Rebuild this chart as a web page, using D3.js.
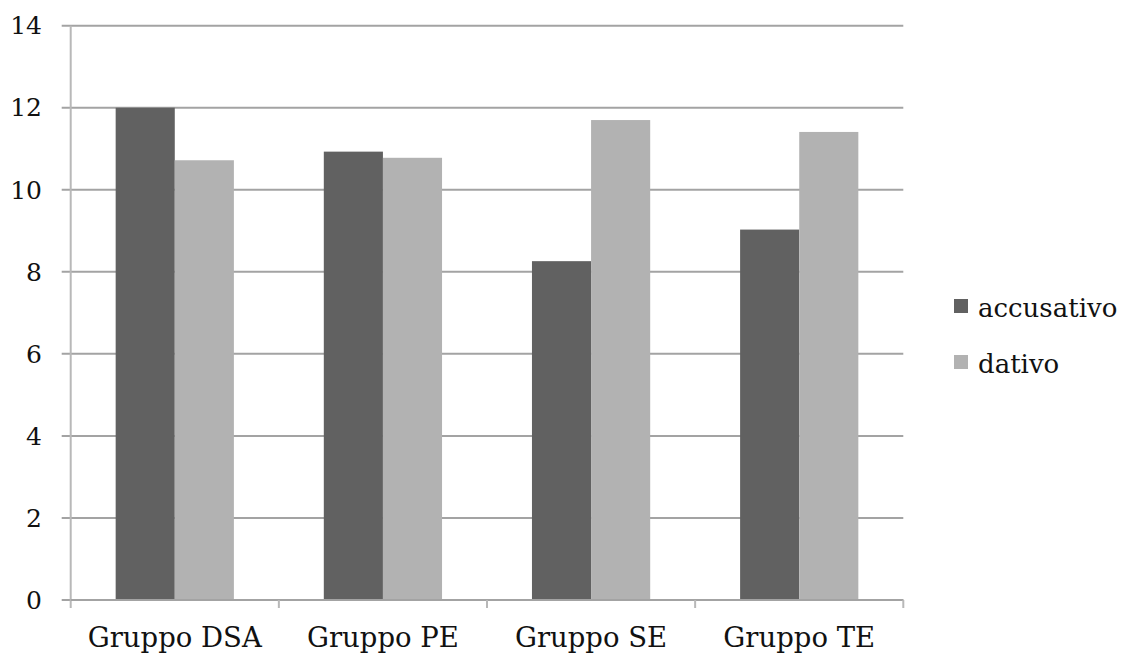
<!DOCTYPE html>
<html>
<head>
<meta charset="utf-8">
<script src="https://cdn.jsdelivr.net/npm/d3@7"></script>
<style>
  html, body { margin: 0; padding: 0; background: #fff; }
  svg { display: block; }
</style>
</head>
<body>
<svg id="chart" width="1123" height="653"></svg>
<script>
const categories = ["Gruppo DSA", "Gruppo PE", "Gruppo SE", "Gruppo TE"];
const seriesNames = ["accusativo", "dativo"];
const accusativo = [12.0, 10.93, 8.26, 9.03];
const dativo = [10.72, 10.78, 11.70, 11.41];
const yTicks = [0, 2, 4, 6, 8, 10, 12, 14];
const colors = ["#616161", "#b2b2b2"];

const rows = categories.map((c, i) => ({ cat: c, values: [accusativo[i], dativo[i]] }));

const svg = d3.select("#chart")
  .attr("font-family", "'DejaVu Serif', serif");
const plotLeft = 70.7, plotRight = 903.3, plotTop = 25.7, plotBottom = 600;

const x = d3.scaleBand().domain(categories).range([plotLeft, plotRight]);
const y = d3.scaleLinear().domain([0, 14]).range([plotBottom, plotTop]);
// the two bars of a group take the middle 57% of each category band
const groupFrac = 0.568;
const xs = d3.scaleBand().domain(seriesNames)
  .range([x.bandwidth() * (1 - groupFrac) / 2, x.bandwidth() * (1 + groupFrac) / 2]);

// horizontal gridlines, extending left as tick marks
svg.append("g").selectAll("line").data(yTicks).join("line")
  .attr("x1", plotLeft - 9).attr("x2", plotRight)
  .attr("y1", d => y(d)).attr("y2", d => y(d))
  .attr("stroke", "#a3a3a3").attr("stroke-width", 2);

// bars
svg.append("g").selectAll("g").data(rows).join("g")
  .attr("transform", d => `translate(${x(d.cat)},0)`)
  .selectAll("rect").data(d => d.values.map((v, k) => ({ v, k }))).join("rect")
  .attr("x", d => xs(seriesNames[d.k]))
  .attr("width", xs.bandwidth())
  .attr("y", d => y(d.v))
  .attr("height", d => y(0) - y(d.v))
  .attr("fill", d => colors[d.k]);

// y axis line
svg.append("line")
  .attr("x1", plotLeft).attr("x2", plotLeft).attr("y1", plotTop).attr("y2", plotBottom + 8)
  .attr("stroke", "#b8b8b8").attr("stroke-width", 2);

// x axis line and tick marks at category boundaries
svg.append("line")
  .attr("x1", plotLeft).attr("x2", plotRight).attr("y1", plotBottom).attr("y2", plotBottom)
  .attr("stroke", "#a3a3a3").attr("stroke-width", 2);
const bounds = categories.slice(1).map(c => x(c)).concat([plotRight]);
svg.append("g").selectAll("line").data(bounds).join("line")
  .attr("x1", d => d).attr("x2", d => d).attr("y1", plotBottom).attr("y2", plotBottom + 8)
  .attr("stroke", "#b8b8b8").attr("stroke-width", 2);

// y tick labels
svg.append("g").selectAll("text").data(yTicks).join("text")
  .attr("x", 42).attr("y", d => y(d))
  .attr("dy", "0.35em")
  .attr("text-anchor", "end")
  .attr("font-size", 25)
  .attr("fill", "#111")
  .text(d => d);

// category labels
svg.append("g").selectAll("text").data(categories).join("text")
  .attr("x", d => x(d) + x.bandwidth() / 2)
  .attr("y", 647)
  .attr("text-anchor", "middle")
  .attr("font-size", 27.5)
  .attr("fill", "#111")
  .text(d => d);

// legend
const legend = svg.append("g").selectAll("g").data(seriesNames).join("g")
  .attr("transform", (d, i) => `translate(954,${299 + i * 56})`);
legend.append("rect").attr("width", 14).attr("height", 14).attr("fill", (d, i) => colors[i]);
legend.append("text").attr("x", 24).attr("y", 18).attr("font-size", 26)
  .attr("fill", "#111").text(d => d);
</script>
</body>
</html>
